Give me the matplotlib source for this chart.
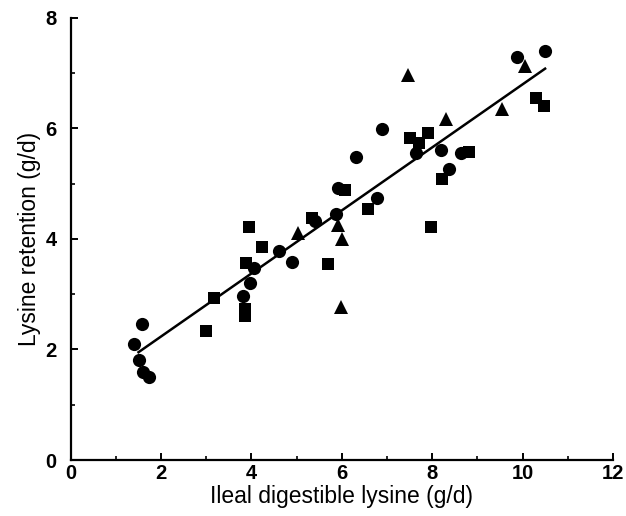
#!/usr/bin/env python3
"""Lysine retention vs ileal digestible lysine: scatter of three groups plus fitted line."""
import matplotlib

matplotlib.use("Agg")
import matplotlib.pyplot as plt
from matplotlib.ticker import MultipleLocator

# circles
circ_x = [1.57, 1.40, 1.51, 1.59, 1.73, 3.82, 3.96, 4.06, 4.62, 4.90, 5.40,
          5.88, 5.92, 6.32, 6.78, 6.90, 7.65, 8.20, 8.38, 8.64, 9.87, 10.50]
circ_y = [2.46, 2.10, 1.81, 1.60, 1.51, 2.96, 3.20, 3.48, 3.79, 3.58, 4.33,
          4.45, 4.93, 5.49, 4.74, 5.98, 5.55, 5.60, 5.27, 5.55, 7.29, 7.40]

# squares
sq_x = [3.00, 3.18, 3.86, 3.86, 3.89, 3.94, 4.23, 5.35, 5.70, 6.07, 6.58,
        7.51, 7.72, 7.91, 7.97, 8.22, 8.81, 10.29, 10.47]
sq_y = [2.33, 2.94, 2.74, 2.60, 3.56, 4.21, 3.86, 4.37, 3.55, 4.88, 4.55,
        5.83, 5.74, 5.92, 4.21, 5.08, 5.57, 6.55, 6.41]

# triangles
tri_x = [5.02, 5.91, 6.01, 5.99, 7.46, 8.30, 9.54, 10.05]
tri_y = [4.10, 4.25, 4.00, 2.77, 6.97, 6.17, 6.35, 7.12]

# regression line end points
line_x = [1.50, 10.50]
line_y = [1.95, 7.08]

fig = plt.figure(figsize=(6.26, 5.16), dpi=100)
ax = fig.add_axes([0.113, 0.1085, 0.866, 0.857])

ax.plot(line_x, line_y, "-", color="black", lw=1.8, zorder=2)
ax.plot(circ_x, circ_y, "o", color="black", ms=9.5, mew=0, zorder=3)
ax.plot(sq_x, sq_y, "s", color="black", ms=9, mew=0, zorder=3)
ax.plot(tri_x, tri_y, "^", color="black", ms=10.5, mew=0, zorder=3)

ax.set_xlim(0, 12)
ax.set_ylim(0, 8)
ax.xaxis.set_major_locator(MultipleLocator(2))
ax.xaxis.set_minor_locator(MultipleLocator(1))
ax.yaxis.set_major_locator(MultipleLocator(2))
ax.yaxis.set_minor_locator(MultipleLocator(1))

for side in ("top", "right"):
    ax.spines[side].set_visible(False)
for side in ("left", "bottom"):
    ax.spines[side].set_linewidth(1.6)

ax.tick_params(which="major", direction="in", length=5, width=1.4)
ax.tick_params(which="minor", direction="in", length=3, width=1.2)
ax.tick_params(axis="x", pad=3)
ax.tick_params(axis="y", pad=10)
for lab in ax.get_xticklabels() + ax.get_yticklabels():
    lab.set_fontfamily("Liberation Sans")
    lab.set_fontweight("bold")
    lab.set_fontsize(14.5)

ax.set_xlabel("Ileal digestible lysine (g/d)", family="Liberation Sans",
              fontsize=16.5, labelpad=1)
ax.set_ylabel("Lysine retention (g/d)", family="Liberation Sans",
              fontsize=16.5, labelpad=3)

fig.savefig("out.png", dpi=100)
